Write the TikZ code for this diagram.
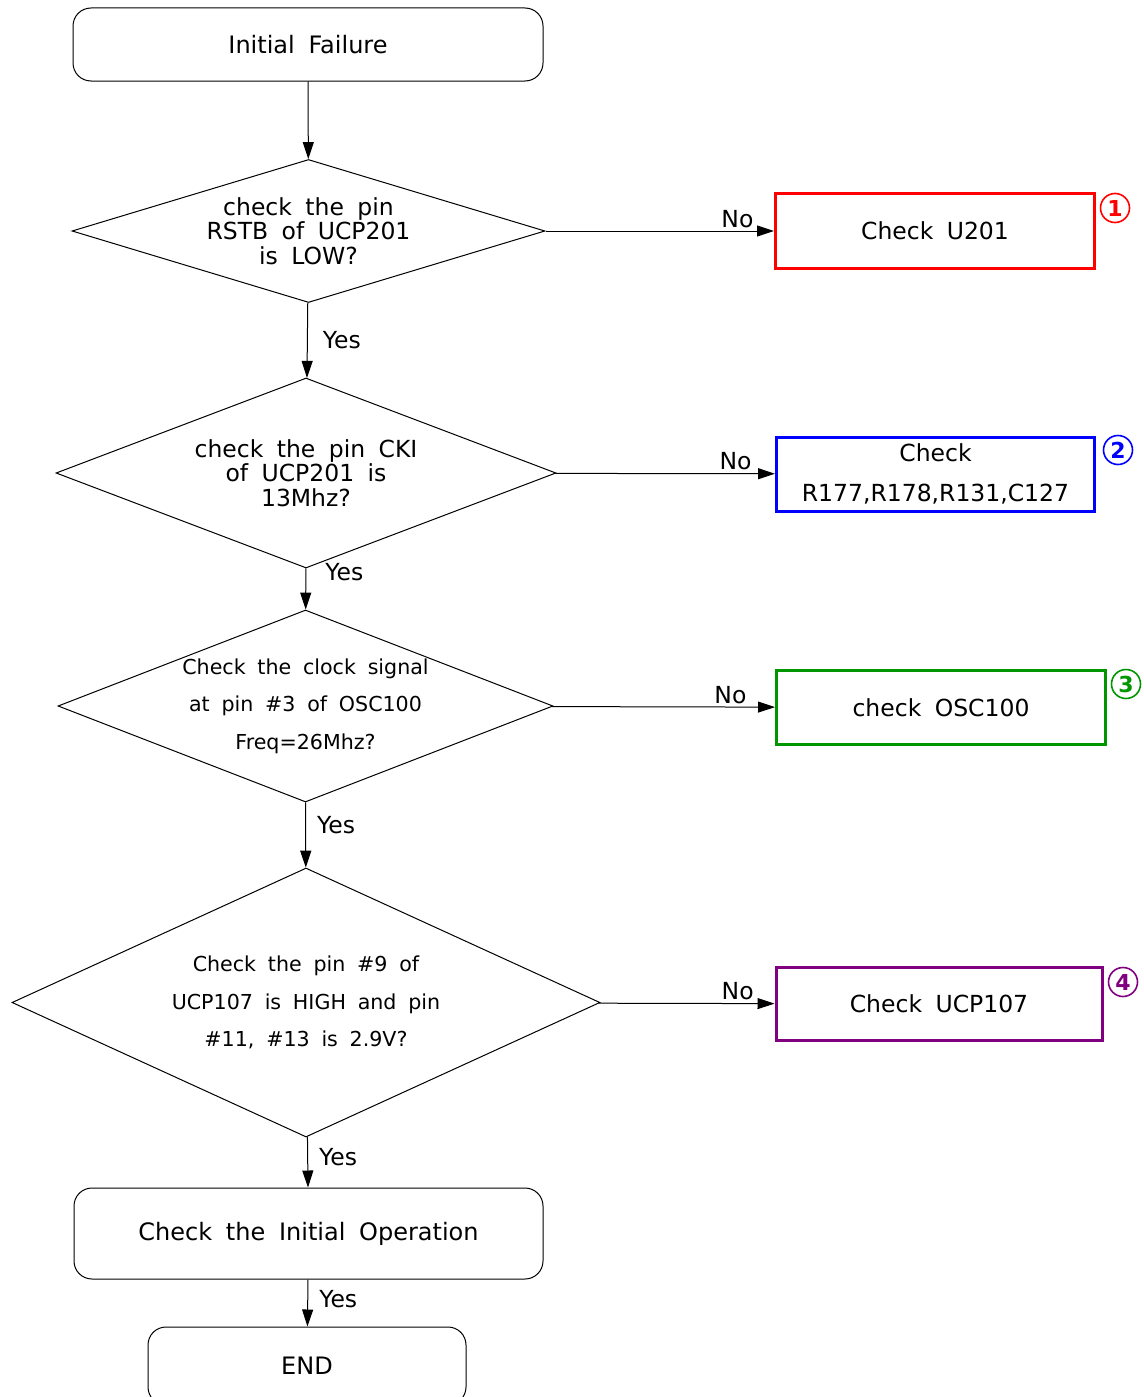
\documentclass[tikz,border=0pt]{standalone}
\usepackage{fontspec}
\setmainfont{DejaVu Sans}[WordSpace=1.8]
\usetikzlibrary{arrows.meta,shapes.geometric}
\definecolor{fixred}{RGB}{255,0,0}
\definecolor{fixblue}{RGB}{0,0,255}
\definecolor{fixgreen}{RGB}{0,150,0}
\definecolor{fixpurple}{RGB}{128,0,128}

\begin{document}
\begin{tikzpicture}[x=1pt, y=-1pt,
    flow/.style={-{Triangle[length=17pt,width=11pt]}, line width=1pt},
    term/.style={draw, line width=1pt, rounded corners=18pt, inner sep=0pt,
                 font=\fontsize{24}{28}\selectfont},
    test/.style={draw, diamond, line width=1pt, inner sep=0pt, align=center},
    bigtxt/.style={font=\fontsize{23.5}{24.5}\selectfont},
    smalltxt/.style={font=\fontsize{20.6}{37.5}\selectfont},
    fixbox/.style={draw, line width=3pt, inner sep=0pt, align=center,
                   font=\fontsize{23.5}{40}\selectfont},
    tag/.style={draw, circle, line width=1.6pt, minimum size=29pt, inner sep=0pt,
                font=\bfseries\fontsize{22}{22}\selectfont},
    lbl/.style={font=\fontsize{23.5}{28}\selectfont, inner sep=3pt}]
    \clip (0,0) rectangle (1143,1397);
    \useasboundingbox (0,0) rectangle (1143,1397);

    % Main column
    \node[term, minimum width=470pt, minimum height=73pt]
         (start) at (308,44.5) {Initial Failure};
    \node[test, bigtxt, minimum width=473pt, minimum height=143pt, aspect=3.3]
         (rstb) at (308.5,231) {check the pin\\RSTB of UCP201\\is LOW?};
    \node[test, bigtxt, minimum width=500pt, minimum height=190pt, aspect=2.6]
         (cki) at (306,473) {check the pin CKI\\of UCP201 is\\13Mhz?};
    \node[test, smalltxt, minimum width=495pt, minimum height=192pt, aspect=2.6]
         (osc) at (305.5,706) {Check the clock signal\\at pin \#3 of OSC100\\Freq=26Mhz?};
    \node[test, smalltxt, minimum width=588pt, minimum height=269pt, aspect=2.2]
         (ucp) at (306,1002.5) {Check the pin \#9 of\\UCP107 is HIGH and pin\\\#11, \#13 is 2.9V?};
    \node[term, minimum width=469pt, minimum height=91pt]
         (oper) at (308.5,1233.5) {Check the Initial Operation};
    \node[term, minimum width=318pt, minimum height=78pt]
         (done) at (307,1366) {END};

    % Repair boxes
    \node[fixbox, draw=fixred, minimum width=319pt, minimum height=75pt]
         (fix1) at (935,231) {Check U201};
    \node[fixbox, draw=fixblue, minimum width=318pt, minimum height=74pt]
         (fix2) at (935.5,474) {Check\\R177,R178,R131,C127};
    \node[fixbox, draw=fixgreen, minimum width=329pt, minimum height=74pt]
         (fix3) at (941,707.5) {check OSC100};
    \node[fixbox, draw=fixpurple, minimum width=326pt, minimum height=73pt]
         (fix4) at (939,1004) {Check UCP107};

    % Numbers
    \node[tag, fixred]    (tag1) at (1115,208) {1};
    \node[tag, fixblue]   (tag2) at (1118,450) {2};
    \node[tag, fixgreen]  (tag3) at (1126,684) {3};
    \node[tag, fixpurple] (tag4) at (1123,982) {4};

    % Yes branches
    \draw[flow] (start) -- (rstb);
    \draw[flow] (rstb) -- node[lbl, right, xshift=12pt, pos=0.5] {Yes} (cki);
    \draw[flow] (cki) -- node[lbl, right, xshift=16pt, pos=0.1] {Yes} (osc);
    \draw[flow] (osc) -- node[lbl, right, xshift=8pt, pos=0.35] {Yes} (ucp);
    \draw[flow] (ucp) -- node[lbl, right, xshift=8pt, pos=0.4] {Yes} (oper);
    \draw[flow] (oper) -- node[lbl, right, xshift=8pt, pos=0.42] {Yes} (done);

    % No branches
    \draw[flow] (rstb) -- node[lbl, above, pos=0.84] {No} (fix1);
    \draw[flow] (cki) -- node[lbl, above, pos=0.82] {No} (fix2);
    \draw[flow] (osc) -- node[lbl, above, pos=0.8] {No} (fix3);
    \draw[flow] (ucp) -- node[lbl, above, pos=0.79] {No} (fix4);
\end{tikzpicture}
\end{document}
